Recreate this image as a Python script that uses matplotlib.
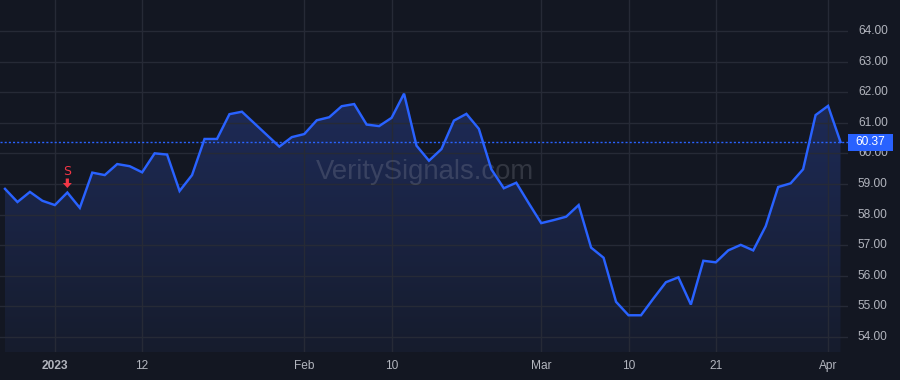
import matplotlib
matplotlib.use("Agg")
import matplotlib.pyplot as plt
import numpy as np
from matplotlib.patches import Polygon, Rectangle
from matplotlib.colors import LinearSegmentedColormap
from matplotlib.transforms import IdentityTransform

# ---- data ----
dates = ["Dec 27", "Dec 28", "Dec 29", "Dec 30", "Jan 3", "Jan 4", "Jan 5", "Jan 6", "Jan 9", "Jan 10",
         "Jan 11", "Jan 12", "Jan 13", "Jan 17", "Jan 18", "Jan 19", "Jan 20", "Jan 23", "Jan 24", "Jan 25",
         "Jan 26", "Jan 27", "Jan 30", "Jan 31", "Feb 1", "Feb 2", "Feb 3", "Feb 6", "Feb 7", "Feb 8",
         "Feb 9", "Feb 10", "Feb 13", "Feb 14", "Feb 15", "Feb 16", "Feb 17", "Feb 21", "Feb 22", "Feb 23",
         "Feb 24", "Feb 27", "Feb 28", "Mar 1", "Mar 2", "Mar 3", "Mar 6", "Mar 7", "Mar 8", "Mar 9",
         "Mar 10", "Mar 13", "Mar 14", "Mar 15", "Mar 16", "Mar 17", "Mar 20", "Mar 21", "Mar 22", "Mar 23",
         "Mar 24", "Mar 27", "Mar 28", "Mar 29", "Mar 30", "Mar 31", "Apr 3", "Apr 4"]
prices = [58.84, 58.41, 58.74, 58.45, 58.31, 58.72, 58.22, 59.37, 59.29, 59.65,
          59.58, 59.38, 60.00, 59.96, 58.77, 59.29, 60.47, 60.47, 61.28, 61.36,
          60.98, 60.60, 60.22, 60.53, 60.63, 61.08, 61.18, 61.54, 61.61, 60.94,
          60.89, 61.16, 61.95, 60.25, 59.76, 60.14, 61.07, 61.29, 60.80, 59.48,
          58.86, 59.04, 58.37, 57.72, 57.82, 57.93, 58.31, 56.92, 56.59, 55.15,
          54.71, 54.71, 55.26, 55.79, 55.95, 55.06, 56.49, 56.44, 56.83, 57.01,
          56.83, 57.62, 58.90, 59.02, 59.48, 61.25, 61.55, 60.37]
x_tick_dates = ["Jan 3", "Jan 12", "Feb 1", "Feb 10", "Mar 1", "Mar 10", "Mar 21", "Apr 3"]
x_tick_labels = ["2023", "12", "Feb", "10", "Mar", "10", "21", "Apr"]
y_ticks = [54, 55, 56, 57, 58, 59, 60, 61, 62, 63, 64]
last_price = 60.37
signal_date = "Jan 4"
signal_label = "S"
watermark = "VeritySignals.com"

# ---- style ----
BG = "#131722"
GRID = "#262a36"
LINE = "#2962ff"
TXT = "#b2b5be"
RED = "#f23645"
FONT = ["Liberation Sans", "DejaVu Sans"]

W, H = 900, 380
fig = plt.figure(figsize=(W / 100, H / 100), dpi=100, facecolor=BG)
ax = fig.add_axes([0, 1 - 352 / H, 848 / W, 352 / H], facecolor=BG)

x = np.arange(len(prices))
y = np.array(prices)
ax.set_xlim(-0.4, 67.6)
ymin, ymax = 53.51, 65.01
ax.set_ylim(ymin, ymax)

# grid
for t in y_ticks:
    ax.axhline(t, color=GRID, lw=1, zorder=2)
tick_idx = [dates.index(d) for d in x_tick_dates]
for t in tick_idx:
    ax.axvline(t, color=GRID, lw=1, zorder=2)

# gradient fill under the line
grad = np.linspace(0, 1, 256).reshape(-1, 1)
cmap = LinearSegmentedColormap.from_list("g", [(0, "#161c2d"), (1, "#1e2b58")])
top = y.max()
im = ax.imshow(grad, extent=[x[0], x[-1], ymin, top], origin="lower", aspect="auto",
               cmap=cmap, zorder=1)
poly_pts = np.vstack([[x[0], ymin], np.column_stack([x, y]), [x[-1], ymin]])
poly = Polygon(poly_pts, closed=True, facecolor="none", edgecolor="none")
ax.add_patch(poly)
im.set_clip_path(poly)

ax.plot(x, y, color=LINE, lw=1.75, zorder=4, solid_joinstyle="miter")

# last price line
ax.axhline(last_price, color=LINE, lw=1, ls=(0, (1.5, 1.5)), zorder=3)

# watermark
ax.text(425 / 848, 59.39, watermark, transform=ax.get_yaxis_transform(), ha="center", va="center",
        fontsize=19.8, color="#b2b5be", alpha=0.2, zorder=3, family=FONT)

# signal marker (arrow drawn in pixel offsets above the point)
si = dates.index(signal_date)
px, py = ax.transData.transform((si, prices[si]))
arrow = [(px, py + 4.5), (px - 4.5, py + 9.5), (px - 1.6, py + 9.5), (px - 1.6, py + 14),
         (px + 1.6, py + 14), (px + 1.6, py + 9.5), (px + 4.5, py + 9.5)]
fig.patches.append(Polygon(arrow, closed=True, transform=IdentityTransform(),
                           facecolor=RED, edgecolor="none", zorder=5))
ax.annotate(signal_label, xy=(si, prices[si]), xytext=(0, 15.5), textcoords="offset points",
            ha="center", va="center", color=RED, fontsize=9, zorder=5, family="DejaVu Sans")

# axes cosmetics
for s in ax.spines.values():
    s.set_visible(False)
ax.set_xticks([])
ax.set_yticks([])

# y tick labels on the right
for t in y_ticks:
    ax.text(1 + 10 / 848, t, f"{t:.2f}", transform=ax.get_yaxis_transform(),
            ha="left", va="center", fontsize=8.6, color=TXT, clip_on=False, family=FONT)

# x tick labels
for i, lab in zip(tick_idx, x_tick_labels):
    ax.text(i, -14 / 352, lab, transform=ax.get_xaxis_transform(), ha="center", va="center",
            fontsize=8.6, color=TXT, fontweight="bold" if lab == "2023" else "normal",
            clip_on=False, family=FONT)

# last price box
yb = ax.transData.transform((0, last_price))[1]
fig.patches.append(Rectangle((848 / W, (yb - 8.5) / H), 45 / W, 17 / H,
                             transform=fig.transFigure, facecolor=LINE, edgecolor="none"))
fig.text(870.5 / W, yb / H, f"{last_price:.2f}", ha="center", va="center",
         color="white", fontsize=8.6, family=FONT)

fig.savefig("out.png", dpi=100, facecolor=BG)
